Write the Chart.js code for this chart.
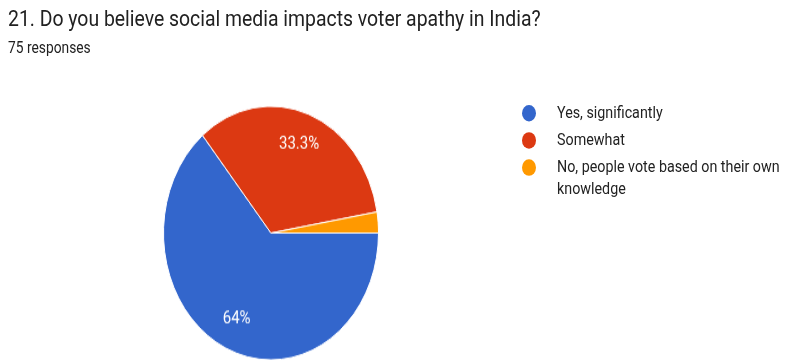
<!DOCTYPE html>
<html lang="en">
<head>
  <meta charset="UTF-8" />
  <title>Q21 - social media and voter apathy</title>
  <script src="https://cdn.jsdelivr.net/npm/chart.js"></script>
  <style>
    html, body {
      margin: 0;
      padding: 0;
      background: #ffffff;
      overflow: hidden;
    }
    /* whole card is drawn a bit taller than wide */
    #stage {
      position: absolute;
      left: 0;
      top: 0;
      width: 787px;
      height: 308px;
      transform: scale(1, 1.18);
      transform-origin: 0 0;
      font-family: Roboto, Arial, sans-serif;
      color: #212121;
    }
    #title {
      position: absolute;
      left: 8px;
      top: 6.3px;
      font-size: 19.4px;
      line-height: 19.4px;
      white-space: nowrap;
    }
    #count {
      position: absolute;
      left: 8px;
      top: 33.5px;
      font-size: 13.8px;
      line-height: 13.8px;
      white-space: nowrap;
    }
    #pie {
      position: absolute;
      left: 0;
      top: 0;
    }
    #legend {
      position: absolute;
      left: 522px;
      top: 87px;
      margin: 0;
      padding: 0;
      list-style: none;
      font-size: 14.3px;
      color: #222222;
    }
    #legend li {
      position: relative;
      padding-left: 35px;
      line-height: 17.5px;
      margin-bottom: 5.5px;
      width: 236px;
    }
    #legend .dot {
      position: absolute;
      left: 0;
      top: 2px;
      width: 14px;
      height: 14px;
      border-radius: 50%;
    }
  </style>
</head>
<body>
  <div id="stage">
    <div id="title">21. Do you believe social media impacts voter apathy in India?</div>
    <div id="count">75 responses</div>
    <canvas id="pie" width="787" height="308"></canvas>
    <ul id="legend"></ul>
  </div>

  <script>
    const answers = ["Yes, significantly", "Somewhat", "No, people vote based on their own knowledge"];
    const responses = [48, 25, 2];
    const sliceColors = ["#3366cc", "#dc3912", "#ff9900"];

    const total = responses.reduce((a, b) => a + b, 0);

    function pct(v) {
      const p = Math.round(v / total * 1000) / 10;
      return (p % 1 === 0 ? p.toFixed(0) : p.toFixed(1)) + "%";
    }

    // percentage text inside the bigger slices
    const sliceLabels = {
      id: "sliceLabels",
      afterDatasetsDraw(chart) {
        const ctx = chart.ctx;
        const meta = chart.getDatasetMeta(0);
        ctx.save();
        ctx.fillStyle = "#ffffff";
        ctx.font = "15px Roboto, Arial, sans-serif";
        ctx.textAlign = "center";
        ctx.textBaseline = "middle";
        meta.data.forEach((arc, i) => {
          const v = responses[i];
          if (v / total < 0.05) return;
          const mid = (arc.startAngle + arc.endAngle) / 2;
          const r = arc.outerRadius * 0.75;
          ctx.fillText(pct(v), arc.x + Math.cos(mid) * r, arc.y + Math.sin(mid) * r);
        });
        ctx.restore();
      }
    };

    new Chart(document.getElementById("pie"), {
      type: "pie",
      data: {
        labels: answers,
        datasets: [{
          data: responses,
          backgroundColor: sliceColors,
          borderColor: "#ffffff",
          borderWidth: 1
        }]
      },
      options: {
        responsive: false,
        animation: false,
        rotation: 90,
        layout: {
          padding: { left: 163, right: 408, top: 89.5, bottom: 2.5 }
        },
        plugins: {
          legend: { display: false },
          tooltip: { enabled: false }
        }
      },
      plugins: [sliceLabels]
    });

    // html legend from the same arrays
    const legend = document.getElementById("legend");
    answers.forEach((name, i) => {
      const li = document.createElement("li");
      const dot = document.createElement("span");
      dot.className = "dot";
      dot.style.background = sliceColors[i];
      li.appendChild(dot);
      li.appendChild(document.createTextNode(name));
      legend.appendChild(li);
    });
  </script>
</body>
</html>
